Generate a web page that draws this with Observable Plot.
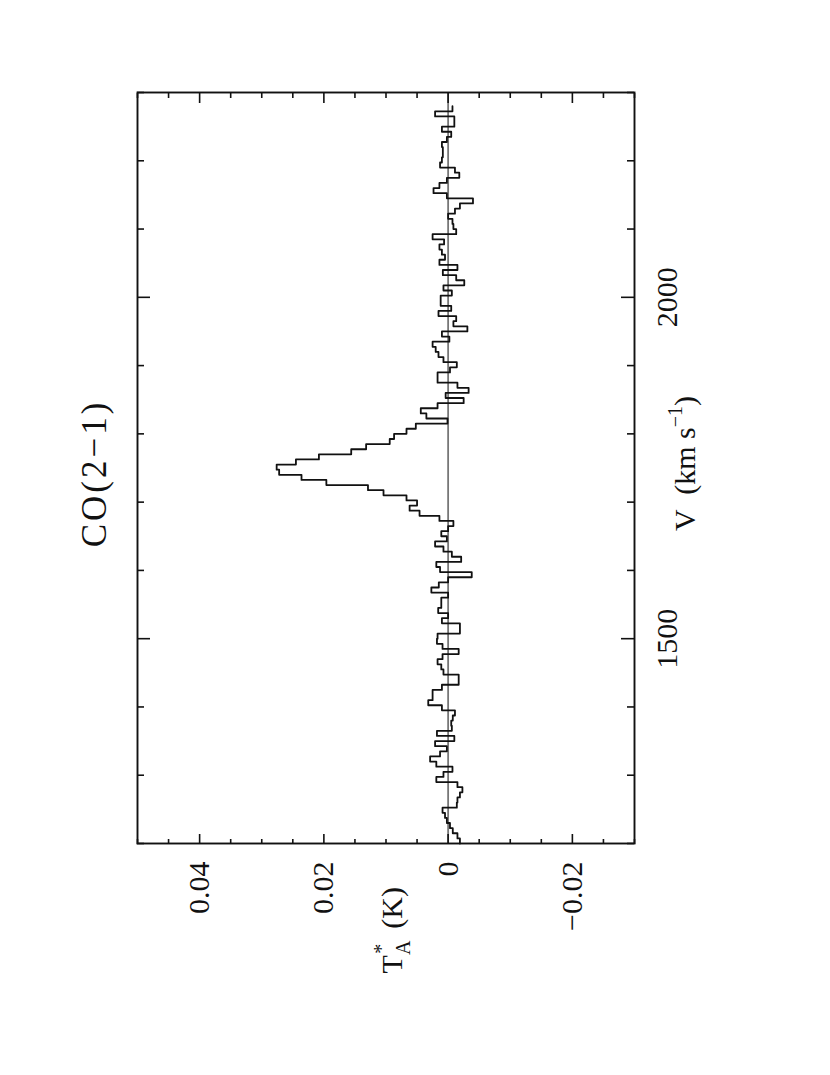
<!DOCTYPE html>
<html>
<head>
<meta charset="utf-8">
<script src="https://cdn.jsdelivr.net/npm/d3@7"></script>
<script src="https://cdn.jsdelivr.net/npm/@observablehq/plot@0.6"></script>
<style>
  html, body { margin: 0; padding: 0; background: #fff; overflow: hidden; }
  #page { position: absolute; left: 0; top: 0; width: 830px; height: 1075px; overflow: hidden; background: #fff; }
  #chart { position: absolute; left: 0; top: 0; width: 1075px; height: 830px;
           transform-origin: 0 0; transform: translate(0px, 1075px) rotate(-90deg); }
</style>
</head>
<body>
<div id="page"><div id="chart"></div></div>
<script>
// ---------- data ----------
const chartTitle = "CO(2−1)";
const velocityDomain = [1200, 2300];          // km/s
const temperatureDomain = [-0.03, 0.05];      // K
const velocityMajorTicks = [1500, 2000];
const velocityTickLabels = ["1500", "2000"];
const velocityMinorTicks = [1200, 1300, 1400, 1600, 1700, 1800, 1900, 2100, 2200, 2300];
const temperatureMajorTicks = [-0.02, 0, 0.02, 0.04];
const temperatureTickLabels = ["−0.02", "0", "0.02", "0.04"];
const temperatureMinorTicks = [-0.03, -0.025, -0.015, -0.01, -0.005, 0.005, 0.01, 0.015,
                               0.025, 0.03, 0.035, 0.045, 0.05];
const channelStart = 1200;   // km/s, low edge of first channel
const channelWidth = 7.5;    // km/s
// antenna temperature per channel (mK), in order of increasing velocity
const antennaTemperatureMilliK = [
  -1.9, -1.5, -0.75, -0.3, 0.2, 0.5, 0.9, -1.4, -1.5, -1.9,
  -2.3, -1.5, 1.9, 0.75, -0.7, 1.9, 2.9, 1.3, 0.2, 2.1,
  -1.0, 1.8, -0.6, -0.5, -0.75, -1.1, 1.0, 3.2, 2.5, 2.5,
  1.0, -1.7, -1.7, 0.75, 1.1, 1.7, 0.9, -1.7, 0.9, 1.8,
  1.7, -1.9, -1.9, 1.0, 0.0, 1.6, 1.1, 1.1, 0.0, 2.7,
  1.5, 0.0, -3.8, 1.3, 1.9, -2.1, -0.6, 0.75, 2.1, 0.2,
  1.1, 0.0, -0.85, 1.4, 4.6, 6.2, 5.0, 6.7, 10.4, 12.9,
  19.6, 23.6, 27.2, 27.6, 24.5, 20.8, 15.6, 13.2, 9.4, 8.7,
  6.7, 5.2, 0.1, 3.5, 4.4, 1.7, -2.5, 0.4, -3.3, -1.5,
  1.7, 1.7, -0.3, -1.4, 0.75, 1.55, 2.0, 2.5, -0.2, 1.0,
  -3.1, -0.85, -1.3, 1.55, -0.5, 1.2, 1.2, -0.6, 0.75, -2.6,
  -1.3, 0.85, -1.5, 1.4, 0.5, 1.0, 1.4, 0.65, 2.5, -1.3,
  -0.85, -0.7, 0.0, -1.1, -1.9, -4.0, 0.2, 2.35, 1.4, 0.2,
  -1.8, -1.1, 1.3, 1.0, 0.85, 0.85, 1.0, 0.2, -0.5, 1.0,
  -1.0, -1.0, 2.1, -0.7
];

// ---------- table for the step histogram ----------
const spectrum = antennaTemperatureMilliK.map((t, i) => ({v: channelStart + i * channelWidth, t: t / 1000}));
spectrum.push({v: channelStart + antennaTemperatureMilliK.length * channelWidth,
               t: antennaTemperatureMilliK[antennaTemperatureMilliK.length - 1] / 1000});

// ---------- layout / style ----------
const FONT = "'Liberation Serif', 'DejaVu Serif', serif";
const INK = "#111";
const W = 1075, H = 830;
const M = {left: 231, right: 93, top: 137, bottom: 196};
const plotW = W - M.left - M.right;
const plotH = H - M.top - M.bottom;
const vMajorLen = 13, vMinorLen = 7, tMajorLen = 10, tMinorLen = 5;

function labelsMark(index, scales, values, dims) {
  const {width, height, marginLeft, marginRight, marginTop, marginBottom} = dims;
  const cx = (marginLeft + width - marginRight) / 2;
  const cy = (marginTop + height - marginBottom) / 2;
  const g = d3.create("svg:g").attr("font-family", FONT).attr("fill", INK);
  g.append("text")
    .attr("x", cx - 5).attr("y", marginTop - 31)
    .attr("text-anchor", "middle").attr("font-size", 35).attr("letter-spacing", 3)
    .text(chartTitle);
  const xl = g.append("text")
    .attr("x", cx + 5).attr("y", height - marginBottom + 61)
    .attr("text-anchor", "middle").attr("font-size", 30);
  xl.append("tspan").text("V  (km s");
  xl.append("tspan").attr("font-size", 20).attr("dy", -13).text("−1");
  xl.append("tspan").attr("dy", 13).text(")");
  const yl = g.append("text")
    .attr("x", marginLeft - 43).attr("y", cy + 16)
    .attr("text-anchor", "end").attr("font-size", 30);
  yl.append("tspan").text("T");
  yl.append("tspan").attr("font-size", 20).attr("dy", 8).text("A");
  yl.append("tspan").attr("font-size", 20).attr("dx", -13).attr("dy", -22).text("*");
  yl.append("tspan").attr("dy", 14).text("  (K)");
  return g.node();
}

const chart = Plot.plot({
  width: W, height: H,
  marginLeft: M.left, marginRight: M.right, marginTop: M.top, marginBottom: M.bottom,
  style: {fontFamily: FONT, fontSize: "30px", color: INK, background: "transparent", overflow: "visible"},
  x: {domain: velocityDomain},
  y: {domain: temperatureDomain},
  marks: [
    Plot.ruleY([0], {stroke: "#777", strokeWidth: 1.8}),
    Plot.line(spectrum, {x: "v", y: "t", curve: "step-after", stroke: INK, strokeWidth: 1.8}),
    // velocity ticks (bottom & top, inward)
    Plot.tickX(velocityMinorTicks, {x: d => d, insetTop: plotH - vMinorLen, stroke: INK, strokeWidth: 1.6}),
    Plot.tickX(velocityMinorTicks, {x: d => d, insetBottom: plotH - vMinorLen, stroke: INK, strokeWidth: 1.6}),
    Plot.tickX(velocityMajorTicks, {x: d => d, insetTop: plotH - vMajorLen, stroke: INK, strokeWidth: 1.6}),
    Plot.tickX(velocityMajorTicks, {x: d => d, insetBottom: plotH - vMajorLen, stroke: INK, strokeWidth: 1.6}),
    // temperature ticks (left & right, inward)
    Plot.tickY(temperatureMinorTicks, {y: d => d, insetRight: plotW - tMinorLen, stroke: INK, strokeWidth: 1.6}),
    Plot.tickY(temperatureMinorTicks, {y: d => d, insetLeft: plotW - tMinorLen, stroke: INK, strokeWidth: 1.6}),
    Plot.tickY(temperatureMajorTicks, {y: d => d, insetRight: plotW - tMajorLen, stroke: INK, strokeWidth: 1.6}),
    Plot.tickY(temperatureMajorTicks, {y: d => d, insetLeft: plotW - tMajorLen, stroke: INK, strokeWidth: 1.6}),
    Plot.frame({stroke: INK, strokeWidth: 1.9}),
    Plot.axisX(velocityMajorTicks, {anchor: "bottom", tickSize: 0, tickPadding: 21, label: null,
      tickFormat: d => velocityTickLabels[velocityMajorTicks.indexOf(d)], fontSize: 30, fill: INK}),
    Plot.axisY(temperatureMajorTicks, {anchor: "left", tickSize: 0, tickPadding: 18, label: null,
      tickFormat: d => temperatureTickLabels[temperatureMajorTicks.indexOf(d)], fontSize: 30, fill: INK}),
    labelsMark
  ]
});
document.getElementById("chart").appendChild(chart);
</script>
</body>
</html>
